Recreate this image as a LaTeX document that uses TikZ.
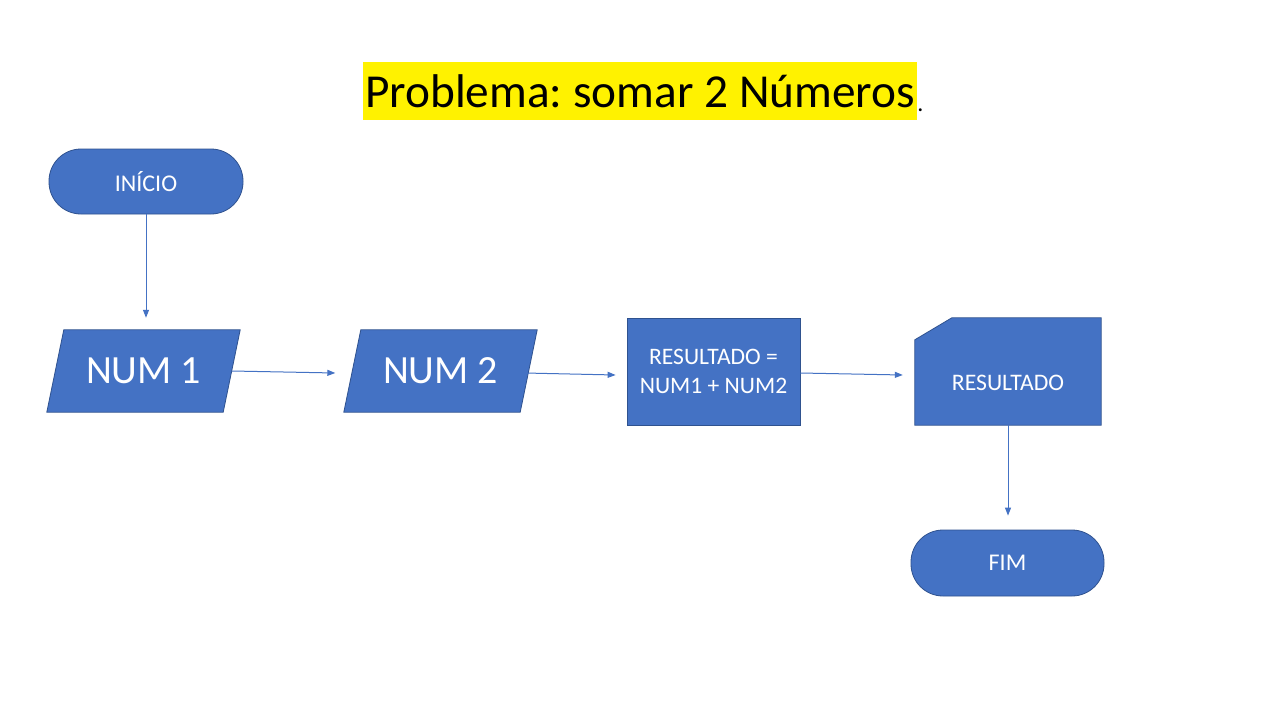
\documentclass[tikz,border=0pt]{standalone}
\usepackage{fontspec}
\setmainfont{Carlito}
\usetikzlibrary{calc,arrows.meta,backgrounds}
\definecolor{blu}{HTML}{4472C4}
\definecolor{bord}{HTML}{2F528F}
\frenchspacing
\begin{document}
\begin{tikzpicture}[x=1pt,y=-1pt,
  term/.style={draw=bord, fill=blu, line width=0.8pt, rounded corners=32pt,
    minimum width=194pt, minimum height=65pt, inner sep=0pt, text=white,
    font=\fontsize{24}{29}\selectfont},
  iobox/.style={minimum width=176pt, minimum height=82pt, inner sep=0pt,
    text=white, font=\fontsize{40}{48}\selectfont},
  shapefill/.style={draw=bord, fill=blu, line width=0.8pt},
  procbox/.style={draw=bord, fill=blu, line width=0.8pt, minimum width=173pt,
    minimum height=107pt, inner sep=0pt, align=center, text=white,
    font=\fontsize{23.6}{29}\selectfont},
  cardbox/.style={minimum width=186pt, minimum height=107pt, inner sep=0pt},
  conn/.style={draw=blu, line width=1pt, -{Triangle[length=8pt,width=6pt]}}
]
\useasboundingbox (0,0) rectangle (1280,720);

% title
\node[fill=yellow, inner xsep=2pt, inner ysep=0pt, text height=45pt,
  text depth=13pt, font=\fontsize{47.3}{58}\selectfont] (title) at (640,91)
  {Problema: somar 2 Números};
\node[anchor=base west, inner sep=0pt, yshift=-4pt, font=\fontsize{24}{29}\selectfont]
  (dot) at (title.base east) {.};

% nodes
\node[term] (start) at (146,181.5) {INÍCIO};
\node[iobox] (n1) at (143.5,371) {NUM 1};
\node[iobox] (n2) at (440.5,371) {NUM 2};
\node[procbox] (r) at (713.5,371.5) {RESULTADO =\\NUM1 + NUM2};
\node[cardbox, label={[yshift=-11pt, text=white, font=\fontsize{23.7}{29}\selectfont]center:RESULTADO}] (c) at (1008,371.5) {};
\node[term, minimum width=193pt, minimum height=66pt] (fim) at (1007.5,563) {FIM};

\begin{scope}[on background layer]
  \fill[white] (0,0) rectangle (1280,720);
  \path[shapefill] ($(n1.north west)+(8.5,0)$) -- ($(n1.north east)+(8.5,0)$)
    -- ($(n1.south east)+(-8.5,0)$) -- ($(n1.south west)+(-8.5,0)$) -- cycle;
  \path[shapefill] ($(n2.north west)+(8.5,0)$) -- ($(n2.north east)+(8.5,0)$)
    -- ($(n2.south east)+(-8.5,0)$) -- ($(n2.south west)+(-8.5,0)$) -- cycle;
  \path[shapefill] ($(c.north west)+(0,22)$) -- ($(c.north west)+(37,0)$)
    -- (c.north east) -- (c.south east) -- (c.south west) -- cycle;
\end{scope}

% connectors
\draw[conn, shorten >=12pt] (start.south) -- (start.south |- n1.north);
\draw[conn] (n1.east) -- ($(n2.west)+(-17,2)$);
\draw[conn] ($(n2.east)+(-4,2)$) -- ($(r.west)+(-11,3.5)$);
\draw[conn] ($(r.east)+(0,1.5)$) -- ($(c.west)+(-12,3.5)$);
\draw[conn, shorten >=14pt] (c.south) -- (c.south |- fim.north);
\end{tikzpicture}
\end{document}
